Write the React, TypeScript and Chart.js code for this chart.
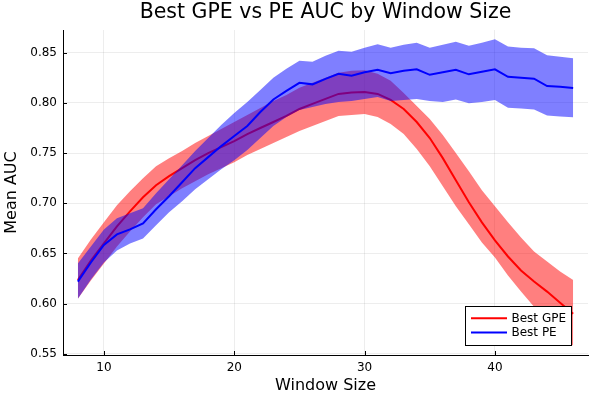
import React, { useEffect, useRef } from "react";
import { Chart, registerables } from "chart.js";

Chart.register(...registerables);

// Window sizes evaluated
const windowSizes = [
  8, 9, 10, 11, 12, 13, 14, 15, 16, 17, 18, 19, 20, 21, 22, 23, 24, 25, 26, 27,
  28, 29, 30, 31, 32, 33, 34, 35, 36, 37, 38, 39, 40, 41, 42, 43, 44, 45, 46,
];

// Best GPE: mean AUC with lower / upper ribbon
const gpeMean = [
  0.6235, 0.643, 0.66, 0.677, 0.692, 0.706, 0.718, 0.727, 0.735, 0.743, 0.75,
  0.756, 0.762, 0.769, 0.775, 0.781, 0.787, 0.794, 0.799, 0.804, 0.809, 0.8105,
  0.811, 0.809, 0.803, 0.794, 0.781, 0.765, 0.745, 0.723, 0.701, 0.681, 0.663,
  0.647, 0.633, 0.622, 0.612, 0.601, 0.59,
];
const gpeLower = [
  0.605, 0.623, 0.64, 0.657, 0.672, 0.686, 0.699, 0.707, 0.715, 0.722, 0.729,
  0.735, 0.741, 0.748, 0.754, 0.76, 0.766, 0.772, 0.777, 0.782, 0.787, 0.788,
  0.789, 0.786, 0.779, 0.769, 0.754, 0.737, 0.717, 0.697, 0.679, 0.661, 0.646,
  0.628, 0.612, 0.597, 0.585, 0.571, 0.558,
];
const gpeUpper = [
  0.645, 0.664, 0.681, 0.698, 0.712, 0.725, 0.737, 0.745, 0.752, 0.76, 0.767,
  0.774, 0.781, 0.788, 0.795, 0.802, 0.808, 0.815, 0.82, 0.825, 0.83, 0.832,
  0.8325, 0.829, 0.822, 0.81, 0.797, 0.784, 0.768, 0.75, 0.732, 0.713, 0.697,
  0.681, 0.666, 0.652, 0.642, 0.632, 0.6235,
];

// Best PE: mean AUC with lower / upper ribbon
const peMean = [
  0.622, 0.641, 0.6585, 0.669, 0.674, 0.68, 0.694, 0.707, 0.721, 0.735, 0.746,
  0.757, 0.767, 0.777, 0.791, 0.8035, 0.812, 0.82, 0.8185, 0.824, 0.829, 0.827,
  0.8305, 0.833, 0.8295, 0.832, 0.8335, 0.828, 0.8305, 0.833, 0.8285, 0.831,
  0.8335, 0.826, 0.825, 0.8242, 0.8168, 0.816, 0.8148,
];
const peLower = [
  0.605, 0.624, 0.641, 0.653, 0.66, 0.665, 0.678, 0.691, 0.702, 0.714, 0.724,
  0.734, 0.743, 0.753, 0.765, 0.777, 0.786, 0.793, 0.796, 0.799, 0.801, 0.802,
  0.804, 0.806, 0.802, 0.803, 0.804, 0.802, 0.801, 0.8035, 0.7998, 0.801,
  0.8028, 0.7952, 0.7945, 0.7935, 0.7875, 0.7865, 0.7858,
];
const peUpper = [
  0.64, 0.657, 0.674, 0.685, 0.69, 0.695, 0.71, 0.724, 0.738, 0.752, 0.765,
  0.778, 0.79, 0.801, 0.813, 0.825, 0.834, 0.842, 0.841, 0.847, 0.852, 0.851,
  0.855, 0.8585, 0.855, 0.858, 0.86, 0.855, 0.858, 0.861, 0.857, 0.86, 0.8635,
  0.8562, 0.855, 0.8545, 0.8475, 0.846, 0.8445,
];

const xTicks = [10, 20, 30, 40];
const yTicks = [0.55, 0.6, 0.65, 0.7, 0.75, 0.8, 0.85];

const FONT = "'DejaVu Sans', sans-serif";
const RED = "rgb(255,0,0)";
const BLUE = "rgb(0,0,255)";
const RED_FILL = "rgba(255,0,0,0.5)";
const BLUE_FILL = "rgba(0,0,255,0.5)";

const pts = (ys: number[]) => windowSizes.map((x, i) => ({ x, y: ys[i] }));

// axis limits: data extent widened by 3% on each side
const pad = (lo: number, hi: number) => {
  const d = (hi - lo) * 0.03;
  return [lo - d, hi + d];
};
const [xMin, xMax] = pad(Math.min(...windowSizes), Math.max(...windowSizes));
const [yMin, yMax] = pad(
  Math.min(...gpeLower, ...peLower),
  Math.max(...gpeUpper, ...peUpper)
);

// short tick marks pointing into the plot area
const inwardTicks = {
  id: "inwardTicks",
  afterDatasetsDraw(chart: any) {
    const { ctx, chartArea, scales } = chart;
    ctx.save();
    ctx.strokeStyle = "#000";
    ctx.lineWidth = 1;
    for (const v of xTicks) {
      const px = Math.round(scales.x.getPixelForValue(v)) + 0.5;
      ctx.beginPath();
      ctx.moveTo(px, chartArea.bottom);
      ctx.lineTo(px, chartArea.bottom - 4);
      ctx.stroke();
    }
    for (const v of yTicks) {
      const py = Math.round(scales.y.getPixelForValue(v)) + 0.5;
      ctx.beginPath();
      ctx.moveTo(chartArea.left, py);
      ctx.lineTo(chartArea.left + 4, py);
      ctx.stroke();
    }
    ctx.restore();
  },
};

// framed legend in the lower-right corner of the plot
const boxedLegend = {
  id: "boxedLegend",
  afterDraw(chart: any) {
    const { ctx, chartArea } = chart;
    const entries = chart.data.datasets.filter((d: any) => d.label);
    ctx.save();
    ctx.font = `12px ${FONT}`;
    const lineLen = 36;
    const gap = 4.5;
    const padL = 6;
    const padR = 5;
    const rowH = 14.4;
    const textW = Math.max(
      ...entries.map((e: any) => ctx.measureText(e.label).width)
    );
    const w = Math.round(padL + lineLen + gap + textW + padR);
    const h = Math.round(rowH * entries.length + 10);
    const right = Math.round(chartArea.right - 17);
    const bottom = Math.round(chartArea.bottom - 10);
    const left = right - w;
    const top = bottom - h;
    ctx.fillStyle = "#fff";
    ctx.fillRect(left, top, w, h);
    ctx.strokeStyle = "#000";
    ctx.lineWidth = 1;
    ctx.strokeRect(left + 0.5, top + 0.5, w, h);
    entries.forEach((e: any, i: number) => {
      const cy = top + 5 + rowH * (i + 0.5);
      ctx.strokeStyle = e.borderColor;
      ctx.lineWidth = 2;
      ctx.beginPath();
      ctx.moveTo(left + padL, cy);
      ctx.lineTo(left + padL + lineLen, cy);
      ctx.stroke();
      ctx.fillStyle = "#000";
      ctx.textAlign = "left";
      ctx.textBaseline = "middle";
      ctx.fillText(e.label, left + padL + lineLen + gap, cy + 0.5);
    });
    ctx.restore();
  },
};

export default function App() {
  const canvasRef = useRef<HTMLCanvasElement | null>(null);

  useEffect(() => {
    const canvas = canvasRef.current;
    if (!canvas) return;

    const ribbon = (data: number[], fill: any, color: string, order: number) => ({
      data: pts(data),
      borderWidth: 0,
      borderColor: "transparent",
      backgroundColor: color,
      pointRadius: 0,
      fill,
      order,
    });

    const chart = new Chart(canvas, {
      type: "line",
      data: {
        datasets: [
          ribbon(gpeLower, false, RED_FILL, 3),
          ribbon(gpeUpper, "-1", RED_FILL, 3),
          {
            label: "Best GPE",
            data: pts(gpeMean),
            borderColor: RED,
            borderWidth: 2,
            pointRadius: 0,
            fill: false,
            order: 2,
          },
          ribbon(peLower, false, BLUE_FILL, 1),
          ribbon(peUpper, "-1", BLUE_FILL, 1),
          {
            label: "Best PE",
            data: pts(peMean),
            borderColor: BLUE,
            borderWidth: 2,
            pointRadius: 0,
            fill: false,
            order: 0,
          },
        ],
      },
      options: {
        responsive: false,
        animation: false,
        events: [],
        layout: { padding: { left: 0, right: 12, top: 0, bottom: 0 } },
        elements: { line: { tension: 0 }, point: { radius: 0 } },
        plugins: {
          legend: { display: false },
          tooltip: { enabled: false },
          title: {
            display: true,
            text: "Best GPE vs PE AUC by Window Size",
            fullSize: false,
            color: "#000",
            font: { family: FONT, size: 20.5, weight: "normal" },
            padding: { top: 0, bottom: 5.4 },
          },
        },
        scales: {
          x: {
            type: "linear",
            min: xMin,
            max: xMax,
            afterBuildTicks: (s: any) => {
              s.ticks = xTicks.map((value) => ({ value }));
            },
            afterFit: (s: any) => {
              s.height = 45;
            },
            grid: {
              color: "rgba(0,0,0,0.07)",
              lineWidth: 1,
              drawTicks: false,
            },
            border: { display: true, color: "#000", width: 1 },
            ticks: {
              color: "#000",
              font: { family: FONT, size: 12 },
              padding: 6,
              maxRotation: 0,
              callback: (v: any) => String(v),
            },
            title: {
              display: true,
              text: "Window Size",
              color: "#000",
              font: { family: FONT, size: 16 },
              padding: { top: 0, bottom: 4.4 },
            },
          },
          y: {
            type: "linear",
            min: yMin,
            max: yMax,
            afterBuildTicks: (s: any) => {
              s.ticks = yTicks.map((value) => ({ value }));
            },
            afterFit: (s: any) => {
              s.width = 63;
            },
            grid: {
              color: "rgba(0,0,0,0.07)",
              lineWidth: 1,
              drawTicks: false,
            },
            border: { display: true, color: "#000", width: 1 },
            ticks: {
              color: "#000",
              font: { family: FONT, size: 12 },
              padding: 6,
              callback: (v: any) => Number(v).toFixed(2),
            },
            title: {
              display: true,
              text: "Mean AUC",
              color: "#000",
              font: { family: FONT, size: 16 },
              padding: { top: 2.4, bottom: 0 },
            },
          },
        },
      } as any,
      plugins: [inwardTicks, boxedLegend],
    });

    return () => chart.destroy();
  }, []);

  return (
    <div
      style={{
        position: "absolute",
        left: 0,
        top: 0,
        width: 600,
        height: 400,
        background: "#fff",
      }}
    >
      <canvas
        ref={canvasRef}
        width={600}
        height={400}
        style={{ display: "block", width: 600, height: 400 }}
      />
    </div>
  );
}
